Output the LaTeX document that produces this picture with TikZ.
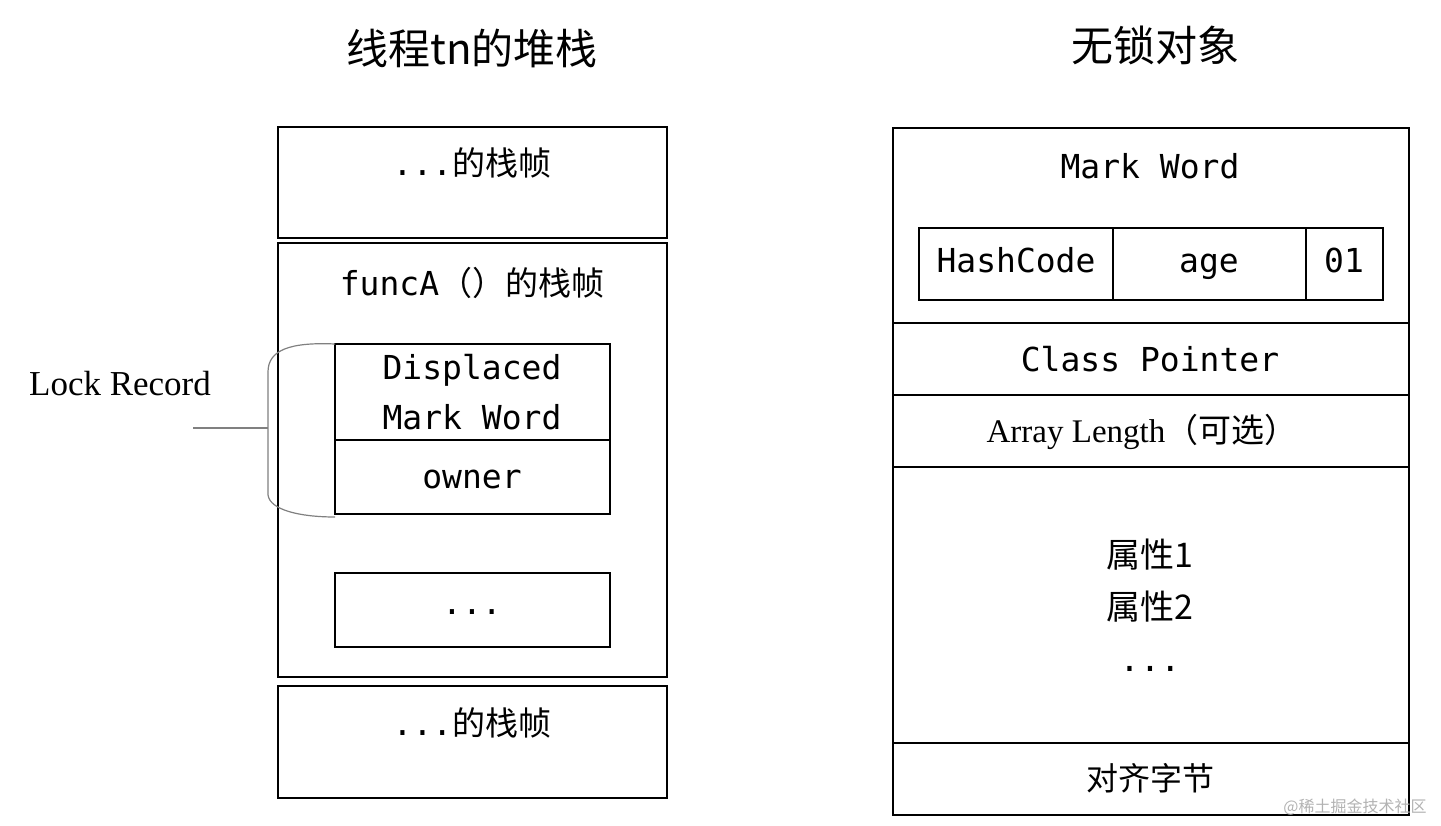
\documentclass[tikz,border=0pt]{standalone}
\usepackage{fontspec}
\setmainfont{Liberation Serif}
\newfontfamily\cjk{Noto Sans CJK SC}
\newfontfamily\mono{DejaVu Sans Mono}
\begin{document}
\begin{tikzpicture}[x=1pt,y=-1pt,
  bx/.style={draw,line width=2.5pt},
  mt/.style={font=\mono\fontsize{33}{50}\selectfont},
  ct/.style={font=\cjk\fontsize{32}{36}\selectfont},
  tt/.style={font=\cjk\fontsize{42}{46}\selectfont}]
\useasboundingbox (0,0) rectangle (1441,826);
\node[tt] (t1) at (472,48) {线程tn的堆栈};
\node[tt] (t2) at (1155,45) {无锁对象};
% left stack
\draw[bx] (278,127) rectangle (667,238);
\draw[bx] (278,243) rectangle (667,677);
\draw[bx] (278,686) rectangle (667,798);
\node[mt] (f1) at (472,163) {...{\cjk 的栈帧}};
\node[mt] (f2) at (472,283) {funcA{\cjk （）的栈帧}};
\node[mt] (f3) at (472,723) {...{\cjk 的栈帧}};
\draw[bx] (335,344) rectangle (610,440);
\draw[bx] (335,440) rectangle (610,514);
\draw[bx] (335,573) rectangle (610,647);
\node[mt,align=center] (dm) at (472,392) {Displaced\\Mark Word};
\node[mt] (ow) at (472,479) {owner};
\node[mt] (dd) at (472,612) {...};
\draw[gray,line width=1.2pt] (335,344) .. controls (290,342) and (268,350) .. (268,372) -- (268,495) .. controls (270,510) and (300,517) .. (335,517);
\coordinate (bm) at (268,428);
\coordinate (le) at (193,428);
\draw[gray,line width=1.2pt] (le) -- (bm);
\node[font=\fontsize{35}{40}\selectfont] (lr) at (120,384) {Lock Record};
% right object
\draw[bx] (893,128) rectangle (1409,323);
\draw[bx] (893,323) rectangle (1409,395);
\draw[bx] (893,395) rectangle (1409,467);
\draw[bx] (893,467) rectangle (1409,743);
\draw[bx] (893,743) rectangle (1409,815);
\node[mt] (mw) at (1150,166) {Mark Word};
\draw[bx] (919,228) rectangle (1113,300);
\draw[bx] (1113,228) rectangle (1306,300);
\draw[bx] (1306,228) rectangle (1383,300);
\node[mt,text height=24pt,text depth=7pt] (hc) at (1016,264) {HashCode};
\node[mt,text height=24pt,text depth=7pt] (ag) at (1209,264) {age};
\node[mt,text height=24pt,text depth=7pt] (z1) at (1344,264) {01};
\node[mt] (cp) at (1150,359) {Class Pointer};
\node[font=\fontsize{33}{38}\selectfont] (al) at (1142,432) {Array Length{\cjk （可选）}};
\node[ct,align=center,font=\cjk\fontsize{34}{52}\selectfont] (pr) at (1150,605) {属性1\\属性2\\{\mono ...}};
\node[ct] (dz) at (1150,778) {对齐字节};
\node[font=\cjk\fontsize{16}{18}\selectfont,text=gray!60] (wm) at (1355,807) {@稀土掘金技术社区};
\end{tikzpicture}
\end{document}
